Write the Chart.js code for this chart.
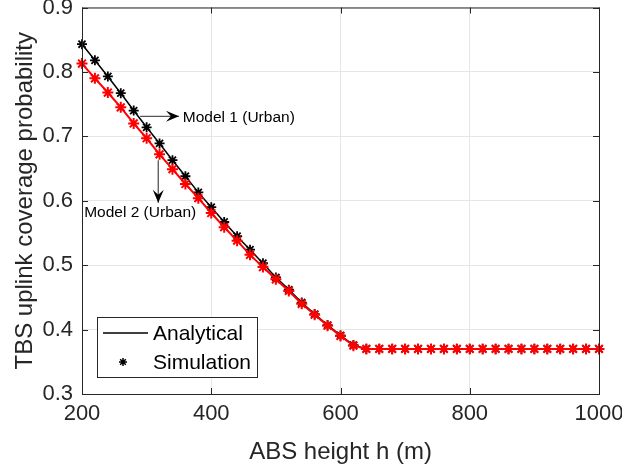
<!DOCTYPE html>
<html>
<head>
<meta charset="utf-8">
<script src="https://cdn.jsdelivr.net/npm/chart.js@4"></script>
<style>
  html, body { margin: 0; padding: 0; background: #fff; }
  #wrap { width: 622px; height: 469px; }
</style>
</head>
<body>
<div id="wrap"><canvas id="chart" width="622" height="469"></canvas></div>
<script>
const heights = [200, 220, 240, 260, 280, 300, 320, 340, 360, 380, 400, 420, 440, 460, 480, 500,
  520, 540, 560, 580, 600, 620, 640, 660, 680, 700, 720, 740, 760, 780, 800, 820, 840, 860, 880,
  900, 920, 940, 960, 980, 1000];
const model1 = [0.843, 0.818, 0.793, 0.767, 0.740, 0.714, 0.689, 0.663, 0.638, 0.613, 0.590,
  0.567, 0.545, 0.524, 0.503, 0.481, 0.462, 0.442, 0.424, 0.407, 0.391, 0.376, 0.370, 0.370,
  0.370, 0.370, 0.370, 0.370, 0.370, 0.370, 0.370, 0.370, 0.370, 0.370, 0.370, 0.370, 0.370,
  0.370, 0.370, 0.370, 0.370];
const model2 = [0.813, 0.790, 0.768, 0.745, 0.720, 0.697, 0.672, 0.649, 0.626, 0.604, 0.581,
  0.559, 0.538, 0.516, 0.497, 0.478, 0.460, 0.440, 0.423, 0.406, 0.390, 0.375, 0.370, 0.370,
  0.370, 0.370, 0.370, 0.370, 0.370, 0.370, 0.370, 0.370, 0.370, 0.370, 0.370, 0.370, 0.370,
  0.370, 0.370, 0.370, 0.370];
const xTicks = [200, 400, 600, 800, 1000];
const yTicks = [0.3, 0.4, 0.5, 0.6, 0.7, 0.8, 0.9];
const legendLabels = ["Analytical", "Simulation"];

const FONT = "'Liberation Sans', Arial, sans-serif";

// box, inward ticks, legend and the two annotations
const decorations = {
  id: "decorations",
  afterDatasetsDraw(chart) {
    const { ctx, chartArea: a, scales: { x, y } } = chart;
    ctx.save();
    ctx.strokeStyle = "#262626";
    ctx.lineWidth = 1;
    ctx.strokeRect(a.left + 0.5, a.top + 0.5, a.right - a.left, a.bottom - a.top);
    ctx.beginPath();
    xTicks.forEach((v) => {
      const px = Math.round(x.getPixelForValue(v)) + 0.5;
      ctx.moveTo(px, a.bottom); ctx.lineTo(px, a.bottom - 6);
      ctx.moveTo(px, a.top); ctx.lineTo(px, a.top + 6);
    });
    yTicks.forEach((v) => {
      const py = Math.round(y.getPixelForValue(v)) + 0.5;
      ctx.moveTo(a.left, py); ctx.lineTo(a.left + 6, py);
      ctx.moveTo(a.right, py); ctx.lineTo(a.right - 6, py);
    });
    ctx.stroke();

    // annotations
    const arrow = (x0, y0, x1, y1) => {
      ctx.strokeStyle = "#555";
      ctx.lineWidth = 1.3;
      ctx.beginPath(); ctx.moveTo(x0, y0); ctx.lineTo(x1, y1); ctx.stroke();
      const ang = Math.atan2(y1 - y0, x1 - x0);
      ctx.fillStyle = "#000";
      ctx.beginPath();
      ctx.moveTo(x1, y1);
      ctx.lineTo(x1 - 13 * Math.cos(ang) + 5.5 * Math.sin(ang), y1 - 13 * Math.sin(ang) - 5.5 * Math.cos(ang));
      ctx.lineTo(x1 - 8 * Math.cos(ang), y1 - 8 * Math.sin(ang));
      ctx.lineTo(x1 - 13 * Math.cos(ang) - 5.5 * Math.sin(ang), y1 - 13 * Math.sin(ang) + 5.5 * Math.cos(ang));
      ctx.closePath(); ctx.fill();
    };
    arrow(x.getPixelForValue(290), y.getPixelForValue(0.731), x.getPixelForValue(350), y.getPixelForValue(0.731));
    arrow(x.getPixelForValue(318), y.getPixelForValue(0.663), x.getPixelForValue(318), y.getPixelForValue(0.597));
    ctx.fillStyle = "#000";
    ctx.font = "15.5px " + FONT;
    ctx.textBaseline = "middle";
    ctx.textAlign = "left";
    ctx.fillText("Model 1 (Urban)", x.getPixelForValue(356), y.getPixelForValue(0.729));
    ctx.textAlign = "center";
    ctx.fillText("Model 2 (Urban)", x.getPixelForValue(290), y.getPixelForValue(0.582));

    // legend
    const lx = 97, ly = 317, lw = 160, lh = 60;
    ctx.fillStyle = "#fff";
    ctx.fillRect(lx, ly, lw, lh);
    ctx.strokeStyle = "#262626";
    ctx.lineWidth = 1;
    ctx.strokeRect(lx + 0.5, ly + 0.5, lw, lh);
    ctx.strokeStyle = "#000";
    ctx.lineWidth = 1.5;
    ctx.beginPath(); ctx.moveTo(lx + 6, ly + 16); ctx.lineTo(lx + 51, ly + 16); ctx.stroke();
    ctx.strokeStyle = "#000";
    Chart.helpers.drawPoint(ctx, { pointStyle: "star", radius: 4, rotation: 0, borderWidth: 1.8 }, lx + 26, ly + 45);
    ctx.fillStyle = "#000";
    ctx.font = "21px " + FONT;
    ctx.textAlign = "left";
    ctx.fillText(legendLabels[0], lx + 56, ly + 17);
    ctx.fillText(legendLabels[1], lx + 56, ly + 46);
    ctx.restore();
  }
};

new Chart(document.getElementById("chart"), {
  type: "line",
  data: {
    labels: heights,
    datasets: [
      {
        label: "Model 1 (Urban)",
        data: heights.map((h, i) => ({ x: h, y: model1[i] })),
        order: 1,
        clip: false,
        borderColor: "#000",
        backgroundColor: "#000",
        borderWidth: 1.5,
        pointStyle: "star",
        pointRadius: 5,
        pointBorderWidth: 1.8,
        pointBorderColor: "#000",
      },
      {
        label: "Model 2 (Urban)",
        data: heights.map((h, i) => ({ x: h, y: model2[i] })),
        order: 0,
        clip: false,
        borderColor: "#ff0000",
        backgroundColor: "#ff0000",
        borderWidth: 2,
        pointStyle: "star",
        pointRadius: 5.5,
        pointBorderWidth: 2,
        pointBorderColor: "#ff0000",
      },
    ],
  },
  options: {
    responsive: false,
    animation: false,
    layout: { padding: { top: 7, right: 23, left: 0, bottom: 0 } },
    plugins: {
      legend: { display: false },
      tooltip: { enabled: false },
    },
    scales: {
      x: {
        type: "linear",
        min: 200,
        max: 1000,
        afterBuildTicks: (s) => { s.ticks = xTicks.map((v) => ({ value: v })); },
        afterFit: (s) => { s.height = 75; s.paddingLeft = 0; s.paddingRight = 0; },
        grid: { color: "#e6e6e6", drawTicks: false },
        border: { display: false },
        ticks: { color: "#262626", font: { family: FONT, size: 22 }, padding: 7, maxRotation: 0, callback: (v) => String(v) },
        title: { display: true, text: "ABS height h (m)", color: "#262626", font: { family: FONT, size: 24 }, padding: { top: 0, bottom: 2 } },
      },
      y: {
        min: 0.3,
        max: 0.9,
        afterBuildTicks: (s) => { s.ticks = yTicks.map((v) => ({ value: v })); },
        afterFit: (s) => { s.width = 82; s.paddingTop = 0; s.paddingBottom = 0; },
        grid: { color: "#e6e6e6", drawTicks: false },
        border: { display: false },
        ticks: { color: "#262626", font: { family: FONT, size: 22 }, padding: 9, callback: (v) => v.toFixed(1) },
        title: { display: true, text: "TBS uplink coverage probability", color: "#262626", font: { family: FONT, size: 24 }, padding: { top: 11, bottom: 0 } },
      },
    },
  },
  plugins: [decorations],
});
</script>
</body>
</html>
